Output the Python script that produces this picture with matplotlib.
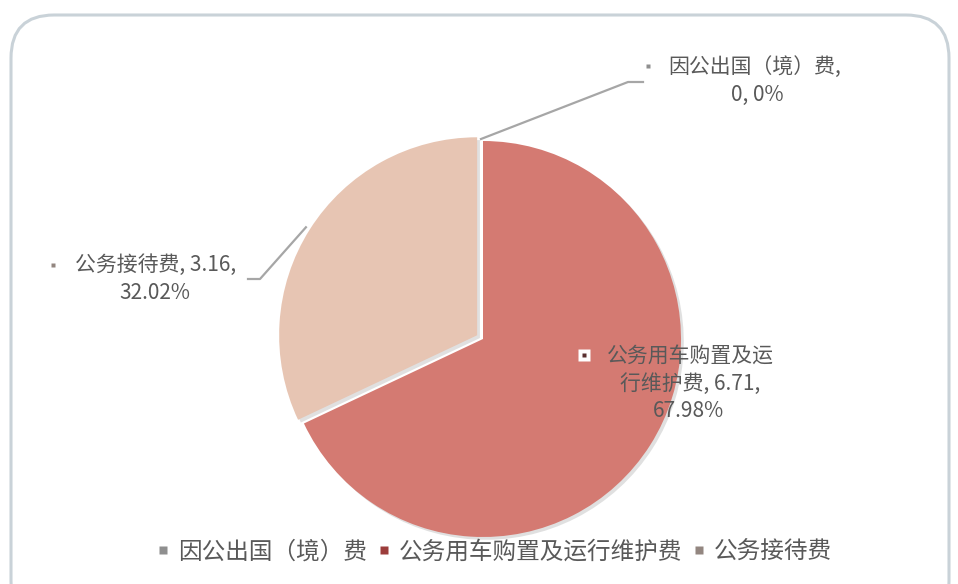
import math
import matplotlib
matplotlib.use("Agg")
from matplotlib import pyplot as plt
from matplotlib.patches import FancyBboxPatch
from matplotlib.lines import Line2D
import matplotlib.patheffects as pe

plt.rcParams['font.family'] = ['Noto Sans CJK SC', 'DejaVu Sans']

# data
categories = ['因公出国（境）费', '公务用车购置及运行维护费', '公务接待费']
values = [0, 6.71, 3.16]
slice_colors = ['#9a9a9a', '#d47a72', '#e7c5b3']
legend_colors = ['#8f8f8f', '#9c3d3b', '#938680']

W, H = 958, 584
cx, cy, R = 483, 339, 198
txt_col = '#595959'

fig = plt.figure(figsize=(W / 100, H / 100), dpi=100)

# rounded frame
frame = FancyBboxPatch((11 / W, -40 / H), 938 / W, (H - 15 + 40) / H,
                       boxstyle="round,pad=0,rounding_size=0.045",
                       transform=fig.transFigure, facecolor='white',
                       edgecolor='#c9d2d8', linewidth=2.2, mutation_aspect=W / H,
                       zorder=-10)
fig.patches.append(frame)

# pie axes, unit radius mapped onto pixels
ax = fig.add_axes([(cx - R) / W, (H - cy - R) / H, 2 * R / W, 2 * R / H])
wedges, _ = ax.pie(values, colors=slice_colors, startangle=90, counterclock=False,
                   explode=[0, 0, 0.035], radius=1,
                   wedgeprops=dict(linewidth=0))
ax.set_xlim(-1, 1)
ax.set_ylim(-1, 1)
ax.axis('off')
for w in wedges:
    w.set_path_effects([pe.SimplePatchShadow(offset=(2, -2), alpha=0.18, shadow_rgbFace='#555555'),
                        pe.Normal()])

total = sum(values)
pcts = [v / total * 100 for v in values]

# overlay axes in pixel coordinates
ov = fig.add_axes([0, 0, 1, 1])
ov.set_xlim(0, W)
ov.set_ylim(H, 0)
ov.axis('off')


def edge_point(w):
    th = math.radians((w.theta1 + w.theta2) / 2)
    x0, y0 = w.center
    return cx + (x0 + w.r * math.cos(th)) * R, cy - (y0 + w.r * math.sin(th)) * R

lc = '#a6a6a6'
# 因公出国（境）费
px, py = edge_point(wedges[0])
ov.plot([px - 2, 628, 643], [py - 2, 82, 82], color=lc, lw=1.6)
ov.plot([648], [66], marker='s', ms=3.5, color=legend_colors[0], mec='none')
ov.text(668, 67, f'{categories[0]},', fontsize=15, color=txt_col, ha='left', va='center')
ov.text(757, 95, f'{values[0]:g}, {pcts[0]:.0f}%', fontsize=15, color=txt_col, ha='center', va='center')

# 公务接待费
px, py = edge_point(wedges[2])
ov.plot([248, 260, px - 4], [279, 279, py - 2], color=lc, lw=1.6)
ov.plot([53], [265], marker='s', ms=3.5, color=legend_colors[2], mec='none')
ov.text(75, 265, f'{categories[2]}, {values[2]:.2f},', fontsize=15, color=txt_col, ha='left', va='center')
ov.text(155, 293, f'{pcts[2]:.2f}%', fontsize=15, color=txt_col, ha='center', va='center')

# 公务用车购置及运行维护费
ov.plot([584], [355], marker='s', ms=9, color='white', mec='none')
ov.plot([584], [355], marker='s', ms=3.5, color='#5a3030', mec='none')
ov.text(607, 356, categories[1][:8], fontsize=15, color=txt_col, ha='left', va='center')
ov.text(690, 384, f'{categories[1][8:]}, {values[1]:.2f},', fontsize=15, color=txt_col, ha='center', va='center')
ov.text(689, 411, f'{pcts[1]:.2f}%', fontsize=15, color=txt_col, ha='center', va='center')

# legend
handles = [Line2D([], [], ls='none', marker='s', ms=6, color=c, mec='none') for c in legend_colors]
fig.legend(handles, categories, loc='center', bbox_to_anchor=(494 / W, 1 - 552 / H),
           ncol=3, frameon=False, fontsize=17, handlelength=0.6, handletextpad=0.35,
           columnspacing=0.4, labelcolor=txt_col)

plt.savefig('out.png', dpi=100)
